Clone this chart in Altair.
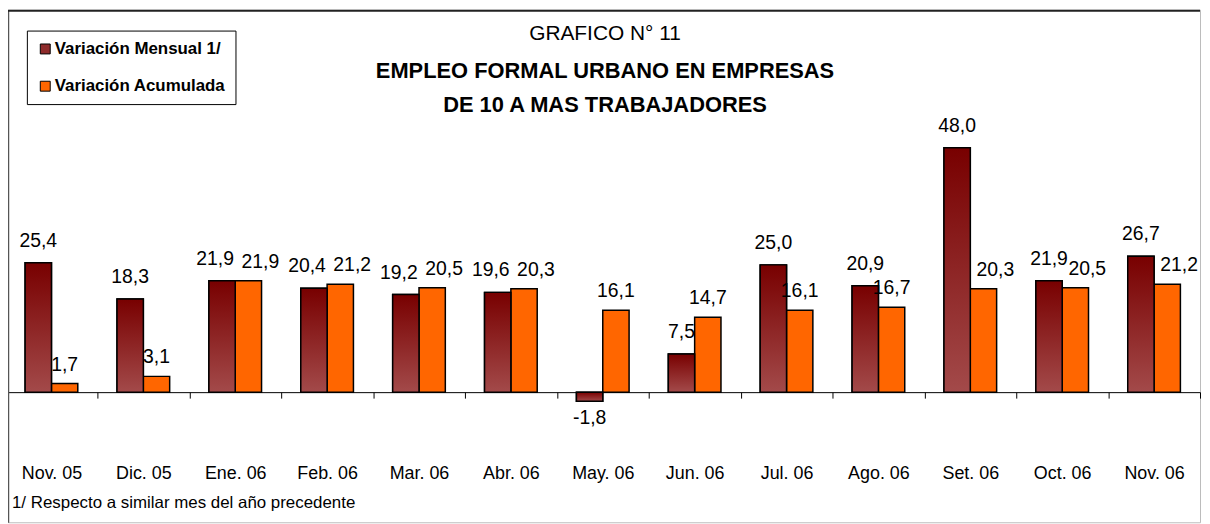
import altair as alt
import pandas as pd

MESES = ["Nov. 05", "Dic. 05", "Ene. 06", "Feb. 06", "Mar. 06", "Abr. 06", "May. 06",
         "Jun. 06", "Jul. 06", "Ago. 06", "Set. 06", "Oct. 06", "Nov. 06"]
MENSUAL = [25.4, 18.3, 21.9, 20.4, 19.2, 19.6, -1.8, 7.5, 25.0, 20.9, 48.0, 21.9, 26.7]
ACUMULADA = [1.7, 3.1, 21.9, 21.2, 20.5, 20.3, 16.1, 14.7, 16.1, 16.7, 20.3, 20.5, 21.2]
SERIES = ["Variación Mensual 1/", "Variación Acumulada"]
TITULO = ["GRAFICO N° 11", "EMPLEO FORMAL URBANO EN EMPRESAS", "DE 10 A MAS TRABAJADORES"]
NOTA = ["1/ Respecto a similar mes del año precedente"]

FONT = "Liberation Sans"
W, H = 1200, 516
Y_DOMAIN = [-25.56, 75.12]

df = pd.DataFrame({"mes": MESES, "mensual": MENSUAL, "acumulada": ACUMULADA})

base = alt.Chart(df).transform_calculate(
    # label collision avoidance, as done in the original chart
    mover_m="datum.mensual <= datum.acumulada && datum.acumulada - datum.mensual < 3",
    mover_a="datum.mensual >= datum.acumulada - 3 && datum.acumulada >= 20",
).transform_fold(
    ["mensual", "acumulada"], as_=["clave", "valor"]
).transform_calculate(
    serie=f"datum.clave == 'mensual' ? '{SERIES[0]}' : '{SERIES[1]}'",
    etiqueta="replace(replace(format(datum.valor, '.1f'), '.', ','), '\u2212', '-')",
).encode(
    x=alt.X(
        "mes:N", sort=MESES,
        scale=alt.Scale(domain=MESES, range=[-2.5, W], paddingInner=0, paddingOuter=0),
        axis=alt.Axis(title=None, orient="bottom", offset=-131, domainColor="black",
                      domainWidth=1, tickColor="black", tickSize=6, tickWidth=1,
                      tickBand="extent", labelFont=FONT, labelFontSize=18,
                      labelColor="black", labelPadding=67, labelAngle=0, grid=False),
    ),
    xOffset=alt.XOffset("serie:N", scale=alt.Scale(domain=SERIES, paddingOuter=0.745, paddingInner=0)),
    y=alt.Y(
        "valor:Q",
        scale=alt.Scale(domain=Y_DOMAIN, nice=False, zero=False),
        axis=alt.Axis(title=None, labels=False, ticks=False, grid=False,
                      domainColor="#555555", domainWidth=1.5),
    ),
)

bars = base.mark_bar(stroke="black", strokeWidth=1.5).encode(
    color=alt.Color(
        "serie:N",
        scale=alt.Scale(domain=SERIES, range=["#8E2B2B", "#FF6600"]),
        legend=alt.Legend(
            title=None, orient="none", legendX=19, legendY=21, direction="vertical",
            labelFont=FONT, labelFontSize=17, labelFontWeight="bold", labelColor="black",
            symbolType="square", symbolSize=100, symbolStrokeColor="black",
            symbolStrokeWidth=1, symbolOpacity=1, strokeColor="black", fillColor="white",
            padding=10, rowPadding=19.5, labelOffset=1, labelLimit=400,
        ),
    )
)

grad = base.transform_filter("datum.clave == 'mensual'").mark_bar(
    stroke="black", strokeWidth=1.5,
    fill=alt.Gradient(
        gradient="linear", x1=0, x2=0, y1=0, y2=1,
        stops=[alt.GradientStop(color="#780000", offset=0),
               alt.GradientStop(color="#A34A4A", offset=1)],
    ),
)


def labels(filt, dx, dy):
    return base.transform_filter(filt).mark_text(
        font=FONT, fontSize=19.5, color="black", baseline="alphabetic",
        align="center", dx=dx, dy=dy,
    ).encode(text="etiqueta:N")


lab_m = labels("datum.clave == 'mensual' && datum.valor >= 0 && !datum.mover_m", 0, -16)
lab_m_c = labels("datum.clave == 'mensual' && datum.valor >= 0 && datum.mover_m", -7, -16)
lab_a = labels("datum.clave == 'acumulada' && !datum.mover_a", 0, -13)
lab_a_c = labels("datum.clave == 'acumulada' && datum.mover_a", 12, -13)
lab_neg = labels("datum.valor < 0", 0, 23)


def texto(line, size, weight, xpos, ypos, align="center"):
    return alt.Chart(alt.Data(values=[{"t": line}])).mark_text(
        font=FONT, fontSize=size, fontWeight=weight, color="black",
        align=align, baseline="alphabetic",
    ).encode(text="t:N", x=alt.value(xpos), y=alt.value(ypos))


t1 = texto(TITULO[0], 21, "normal", 601, 30)
t2 = texto(TITULO[1], 22, "bold", 601, 69)
t3 = texto(TITULO[2], 22, "bold", 601, 103)
nota = texto(NOTA[0], 17, "normal", 4, 502, align="left")

top_line = alt.Chart(alt.Data(values=[{"a": 1}])).mark_rule(color="#222222", strokeWidth=2).encode(
    x=alt.value(0), x2=alt.value(W), y=alt.value(1)
)

chart = alt.layer(
    bars, grad, lab_m, lab_m_c, lab_a, lab_a_c, lab_neg, t1, t2, t3, nota, top_line
).properties(
    width=W, height=H,
    autosize=alt.AutoSizeParams(type="none"),
    padding={"left": 0, "top": 0, "right": 2, "bottom": 0},
).configure_view(stroke="#BBBBBB", strokeWidth=1)

chart.save("out.html", embed_options={"renderer": "svg", "actions": False})
